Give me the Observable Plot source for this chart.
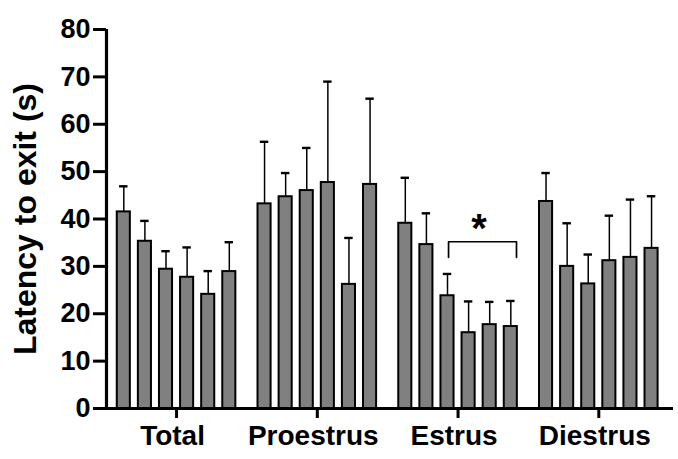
<!DOCTYPE html>
<html><head><meta charset="utf-8">
<script src="https://cdn.jsdelivr.net/npm/d3@7"></script>
<script src="https://cdn.jsdelivr.net/npm/@observablehq/plot@0.6"></script>
<style>body{margin:0;background:#fff}</style>
</head><body><div id="chart"></div>
<script>
// ---- data ----
const groups = ["Total", "Proestrus", "Estrus", "Diestrus"];
const totalMean     = [41.5, 35.3, 29.4, 27.7, 24.1, 28.9];
const totalSem      = [5.4, 4.3, 3.8, 6.3, 4.9, 6.2];
const proestrusMean = [43.2, 44.7, 46.0, 47.7, 26.2, 47.3];
const proestrusSem  = [13.1, 5.0, 9.0, 21.3, 9.8, 18.1];
const estrusMean    = [39.1, 34.6, 23.8, 16.0, 17.7, 17.3];
const estrusSem     = [9.6, 6.6, 4.6, 6.6, 4.8, 5.4];
const diestrusMean  = [43.7, 30.0, 26.3, 31.2, 31.9, 33.8];
const diestrusSem   = [6.0, 9.1, 6.2, 9.5, 12.2, 11.0];
const yTicks = [0, 10, 20, 30, 40, 50, 60, 70, 80];
const yLabel = "Latency to exit (s)";
// significance bracket (Estrus group, bar 3 to bar 6)
const bracketGroup = "Estrus";
const bracketBars = [2.05, 5.27];
const bracketY = [31.9, 35.2];
const starText = "*";
const starBar = 3.5;
const starY = 35.1;

// ---- layout (bar-pitch units) ----
const groupStep = 6.67;
const barHalf = 0.31;
const capHalf = 0.2;
const pos = (g, i) => groups.indexOf(g) * groupStep + i + 0.5;

const meanArrays = [totalMean, proestrusMean, estrusMean, diestrusMean];
const semArrays = [totalSem, proestrusSem, estrusSem, diestrusSem];
const rows = [];
groups.forEach((g, gi) => {
  meanArrays[gi].forEach((m, i) => rows.push({group: g, bar: i, x: pos(g, i), mean: m, sem: semArrays[gi][i]}));
});
const centers = groups.map(g => pos(g, 2.5));
const nameAt = new Map(centers.map((c, i) => [c, groups[i]]));
const bx0 = pos(bracketGroup, bracketBars[0]), bx1 = pos(bracketGroup, bracketBars[1]);
const bracket = [
  {x: bx0, y: bracketY[0]}, {x: bx0, y: bracketY[1]},
  {x: bx1, y: bracketY[1]}, {x: bx1, y: bracketY[0]}
];
const xDomain = [-0.32, 26.55];

const chart = Plot.plot({
  width: 678,
  height: 459,
  marginLeft: 106,
  marginRight: 5,
  marginTop: 29,
  marginBottom: 51,
  style: {fontFamily: "'Liberation Sans', Arial, sans-serif", fontWeight: "bold", background: "white", color: "black"},
  x: {type: "linear", domain: xDomain},
  y: {domain: [0, 80]},
  marks: [
    Plot.ruleX(rows, {x: "x", y1: "mean", y2: d => d.mean + d.sem, stroke: "black", strokeWidth: 1.5}),
    Plot.ruleY(rows, {y: d => d.mean + d.sem, x1: d => d.x - capHalf, x2: d => d.x + capHalf, stroke: "black", strokeWidth: 2.4}),
    Plot.rect(rows, {x1: d => d.x - barHalf, x2: d => d.x + barHalf, y1: 0, y2: "mean", fill: "#808080", stroke: "black", strokeWidth: 2}),
    Plot.line(bracket, {x: "x", y: "y", stroke: "black", strokeWidth: 1.7}),
    Plot.text([starText], {x: [pos(bracketGroup, starBar)], y: [starY], text: d => d, fontSize: 40, lineAnchor: "bottom", fill: "black"}),
    Plot.ruleX([xDomain[0]], {y1: 0, y2: 80, stroke: "black", strokeWidth: 3.2}),
    Plot.ruleY([0], {stroke: "black", strokeWidth: 3.2}),
    Plot.axisY({ticks: yTicks, tickSize: 13, tickPadding: 3, strokeWidth: 3, fontSize: 27, label: null}),
    Plot.axisX({ticks: centers, tickFormat: () => "", tickSize: 10, strokeWidth: 3, label: null}),
    Plot.axisX({ticks: centers, tickFormat: d => nameAt.get(d), tickSize: 0, tickPadding: 17, dx: -4, fontSize: 28, label: null}),
    Plot.text([yLabel], {frameAnchor: "left", textAnchor: "middle", rotate: -90, dx: -81, fontSize: 32, fill: "black"})
  ]
});
document.getElementById("chart").appendChild(chart);
</script>
</body></html>
